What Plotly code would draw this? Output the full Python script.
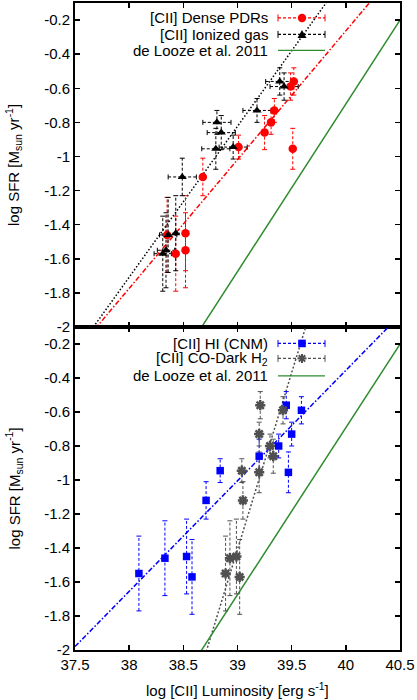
import plotly.graph_objects as go

# ---------------- data ----------------
sfr = [-1.55, -1.46, -1.45, -1.57, -1.12, -0.945, -0.86, -0.80, -0.73, -0.56, -0.59, -0.955]
sfr_err = [0.22, 0.22, 0.22, 0.22, 0.11, 0.07, 0.10, 0.07, 0.07, 0.08, 0.08, 0.12]

lum_pdr = [38.52, 38.35, 38.52, 38.43, 38.68, 39.01, 39.25, 39.31, 39.34, 39.52, 39.49, 39.51]
lum_ion = [38.34, 38.36, 38.43, 38.31, 38.49, 38.96, 38.85, 38.81, 39.18, 39.39, 39.43, 38.80]
lum_ion_err = [0.08, 0.08, 0.08, 0.08, 0.13, 0.13, 0.13, 0.13, 0.13, 0.13, 0.13, 0.13]
lum_hi = [38.09, 38.33, 38.53, 38.58, 38.71, 38.84, 39.20, 39.38, 39.50, 39.45, 39.59, 39.47]
lum_co = [38.89, 38.93, 38.99, 39.02, 39.05, 39.04, 39.33, 39.30, 39.20, 39.21, 39.42, 39.20]

# fit lines: (slope, intercept) in log SFR = a * log L + b
fit_pdr = (0.755, -30.4635)
fit_ion = (0.885, -35.338)
fit_hi = (0.65, -26.355)
fit_co = (2.08, -82.529)
fit_delooze = (0.983, -40.012)

x_range = [37.5, 40.5]
x_tickvals = [37.5, 38, 38.5, 39, 39.5, 40, 40.5]
x_ticktext = ["37.5", "38", "38.5", "39", "39.5", "40", "40.5"]
y_tickvals = [-2, -1.8, -1.6, -1.4, -1.2, -1, -0.8, -0.6, -0.4, -0.2]
y_ticktext = ["-2", "-1.8", "-1.6", "-1.4", "-1.2", "-1", "-0.8", "-0.6", "-0.4", "-0.2"]
y_range = [-2, -0.1]

legend_top = ["[CII] Dense PDRs", "[CII] Ionized gas", "de Looze et al. 2011"]
legend_bot = ["[CII] HI (CNM)", "[CII] CO-Dark H<sub>2</sub>", "de Looze et al. 2011"]

# ---------------- styling ----------------
FONT = "Liberation Sans, Arial, Helvetica, sans-serif"
RED, BLACK, BLUE, GRAY, GREEN = "#ff0000", "#000000", "#0000ff", "#505050", "#2e8b2e"
W, H = 417, 700
L, R, T, B = 75, 17, 1, 50
PLOT_W = W - L - R
PANEL_H = (H - B - T) / 2
split = (H - B - 326) / (H - B - T)
DASH_PDR = "5px,2px,1.5px,2px"
DASH_ION = "1.5px,2px"
DASH_HI = "5px,2px,1.5px,2px"
DASH_CO = "2px,2px"
ERR_DASH = "3px,2px"
CAP_PX = 2.5

# data units per pixel, to size the small error-bar caps
dx_px = (x_range[1] - x_range[0]) / PLOT_W
dy_px = (y_range[1] - y_range[0]) / PANEL_H


def px(x):
    return (x - L) / PLOT_W


def py(y):
    return (H - B - y) / (H - B - T)


def line_pts(fit):
    return x_range, [fit[0] * x + fit[1] for x in x_range]


fig = go.Figure()


def add_errbars(xs, ys, yerr, color, xa, ya, xerr=None):
    bx, by, cx, cy = [], [], [], []
    for i, (x, y, e) in enumerate(zip(xs, ys, yerr)):
        bx += [x, x, None]
        by += [y - e, y + e, None]
        for yy in (y - e, y + e):
            cx += [x - CAP_PX * dx_px, x + CAP_PX * dx_px, None]
            cy += [yy, yy, None]
        if xerr is not None:
            ex = xerr[i]
            bx += [x - ex, x + ex, None]
            by += [y, y, None]
            for xx in (x - ex, x + ex):
                cx += [xx, xx, None]
                cy += [y - CAP_PX * dy_px, y + CAP_PX * dy_px, None]
    fig.add_trace(go.Scatter(x=bx, y=by, mode="lines", xaxis=xa, yaxis=ya,
                             line=dict(color=color, width=1, dash=ERR_DASH),
                             showlegend=False, hoverinfo="skip"))
    fig.add_trace(go.Scatter(x=cx, y=cy, mode="lines", xaxis=xa, yaxis=ya,
                             line=dict(color=color, width=1),
                             showlegend=False, hoverinfo="skip"))


# ---- top panel (x, y) ----
lx, ly = line_pts(fit_pdr)
fig.add_trace(go.Scatter(x=lx, y=ly, mode="lines", xaxis="x", yaxis="y",
                         line=dict(color=RED, width=1.5, dash=DASH_PDR), showlegend=False))
lx, ly = line_pts(fit_ion)
fig.add_trace(go.Scatter(x=lx, y=ly, mode="lines", xaxis="x", yaxis="y",
                         line=dict(color=BLACK, width=1.5, dash=DASH_ION), showlegend=False))
lx, ly = line_pts(fit_delooze)
fig.add_trace(go.Scatter(x=lx, y=ly, mode="lines", xaxis="x", yaxis="y",
                         line=dict(color=GREEN, width=1.5), showlegend=False))
add_errbars(lum_pdr, sfr, sfr_err, RED, "x", "y")
add_errbars(lum_ion, sfr, sfr_err, BLACK, "x", "y", xerr=lum_ion_err)
fig.add_trace(go.Scatter(x=lum_pdr, y=sfr, mode="markers", xaxis="x", yaxis="y",
                         marker=dict(symbol="circle", size=8.5, color=RED),
                         showlegend=False))
fig.add_trace(go.Scatter(x=lum_ion, y=sfr, mode="markers", xaxis="x", yaxis="y",
                         marker=dict(symbol="triangle-up", size=8, color=BLACK),
                         showlegend=False))

# ---- bottom panel (x2, y2) ----
lx, ly = line_pts(fit_hi)
fig.add_trace(go.Scatter(x=lx, y=ly, mode="lines", xaxis="x2", yaxis="y2",
                         line=dict(color=BLUE, width=1.5, dash=DASH_HI), showlegend=False))
lx, ly = line_pts(fit_co)
fig.add_trace(go.Scatter(x=lx, y=ly, mode="lines", xaxis="x2", yaxis="y2",
                         line=dict(color=GRAY, width=1.5, dash=DASH_CO), showlegend=False))
lx, ly = line_pts(fit_delooze)
fig.add_trace(go.Scatter(x=lx, y=ly, mode="lines", xaxis="x2", yaxis="y2",
                         line=dict(color=GREEN, width=1.5), showlegend=False))
add_errbars(lum_hi, sfr, sfr_err, BLUE, "x2", "y2")
add_errbars(lum_co, sfr, sfr_err, GRAY, "x2", "y2")
fig.add_trace(go.Scatter(x=lum_hi, y=sfr, mode="markers", xaxis="x2", yaxis="y2",
                         marker=dict(symbol="square", size=7.5, color=BLUE),
                         showlegend=False))
fig.add_trace(go.Scatter(x=lum_co, y=sfr, mode="markers", xaxis="x2", yaxis="y2",
                         marker=dict(symbol="asterisk-open", size=8.5, color=GRAY,
                                     line=dict(color=GRAY, width=2.5)),
                         showlegend=False))

axis_common = dict(showline=True, linewidth=2, linecolor="black", mirror="allticks",
                   ticks="inside", ticklen=5, tickwidth=1.5, tickcolor="black",
                   showgrid=False, zeroline=False,
                   tickfont=dict(family=FONT, size=15, color="black"))

fig.update_layout(
    width=W, height=H, margin=dict(l=L, r=R, t=T, b=B),
    paper_bgcolor="white", plot_bgcolor="white",
    font=dict(family=FONT, size=15, color="black"),
    showlegend=False,
    xaxis=dict(domain=[0, 1], anchor="y", range=x_range, tickvals=x_tickvals,
               ticktext=x_ticktext, showticklabels=False, **axis_common),
    yaxis=dict(domain=[split, 1], anchor="x", range=y_range, tickvals=y_tickvals,
               ticktext=y_ticktext, **axis_common),
    xaxis2=dict(domain=[0, 1], anchor="y2", range=x_range, tickvals=x_tickvals,
                ticktext=x_ticktext, **axis_common),
    yaxis2=dict(domain=[0, split], anchor="x2", range=y_range, tickvals=y_tickvals,
                ticktext=y_ticktext, **axis_common),
)

# ---- axis titles ----
ann = []
ytitle = "log SFR [M<sub>sun</sub> yr<sup>-1</sup>]"
for yc in (163.5, 488):
    ann.append(dict(text=ytitle, x=px(14), y=py(yc), xref="paper", yref="paper",
                    xanchor="center", yanchor="middle", textangle=-90, showarrow=False,
                    font=dict(family=FONT, size=15)))
ann.append(dict(text="log [CII] Luminosity [erg s<sup>-1</sup>]", x=px(237.5), y=py(690),
                xref="paper", yref="paper", xanchor="center", yanchor="middle",
                showarrow=False, font=dict(family=FONT, size=15)))

# ---- hand-built keys (text left of sample, like the original) ----
shapes = []
rows_top = [16, 32.5, 48.5]
rows_bot = [342.5, 357.5, 375]
x_txt, x_s0, x_s1, x_m = 270, 278, 325, 302


def key_line(yc, color, dash, caps=True):
    shapes.append(dict(type="line", xref="paper", yref="paper", x0=px(x_s0), x1=px(x_s1),
                       y0=py(yc), y1=py(yc), line=dict(color=color, width=1.2, dash=dash)))
    if caps:
        for xc in (x_s0, x_s1):
            shapes.append(dict(type="line", xref="paper", yref="paper", x0=px(xc), x1=px(xc),
                               y0=py(yc - 3.5), y1=py(yc + 3.5), line=dict(color=color, width=1)))


for txt, yc in zip(legend_top, rows_top):
    ann.append(dict(text=txt, x=px(x_txt), y=py(yc), xref="paper", yref="paper",
                    xanchor="right", yanchor="middle", showarrow=False,
                    font=dict(family=FONT, size=15)))
for txt, yc in zip(legend_bot, rows_bot):
    ann.append(dict(text=txt, x=px(x_txt), y=py(yc), xref="paper", yref="paper",
                    xanchor="right", yanchor="middle", showarrow=False,
                    font=dict(family=FONT, size=15)))

key_line(rows_top[0], RED, "3px,2px")
shapes.append(dict(type="circle", xref="paper", yref="paper", x0=px(x_m - 4.2), x1=px(x_m + 4.2),
                   y0=py(rows_top[0] + 4.2), y1=py(rows_top[0] - 4.2), fillcolor=RED,
                   line=dict(width=0)))
key_line(rows_top[1], BLACK, "3px,2px")
yc = rows_top[1]
shapes.append(dict(type="path", xref="paper", yref="paper",
                   path=f"M {px(x_m)},{py(yc - 4.5)} L {px(x_m + 4.5)},{py(yc + 3.5)} "
                        f"L {px(x_m - 4.5)},{py(yc + 3.5)} Z",
                   fillcolor=BLACK, line=dict(width=0)))
key_line(rows_top[2], GREEN, "solid", caps=False)

key_line(rows_bot[0], BLUE, "3px,2px")
yc = rows_bot[0]
shapes.append(dict(type="rect", xref="paper", yref="paper", x0=px(x_m - 3.8), x1=px(x_m + 3.8),
                   y0=py(yc + 3.8), y1=py(yc - 3.8), fillcolor=BLUE, line=dict(width=0)))
key_line(rows_bot[1], GRAY, "3px,2px")
yc = rows_bot[1]
for ddx, ddy in ((4.5, 0), (0, 4.5), (3.2, 3.2), (3.2, -3.2)):
    shapes.append(dict(type="line", xref="paper", yref="paper",
                       x0=px(x_m - ddx), x1=px(x_m + ddx), y0=py(yc - ddy), y1=py(yc + ddy),
                       line=dict(color=GRAY, width=2)))
key_line(rows_bot[2], GREEN, "solid", caps=False)

fig.update_layout(annotations=ann, shapes=shapes)

fig.write_html("out.html", config={"displayModeBar": False, "staticPlot": True},
               post_script="document.body.style.margin='0';document.body.style.padding='0';"
                           "document.body.style.overflow='hidden';")
